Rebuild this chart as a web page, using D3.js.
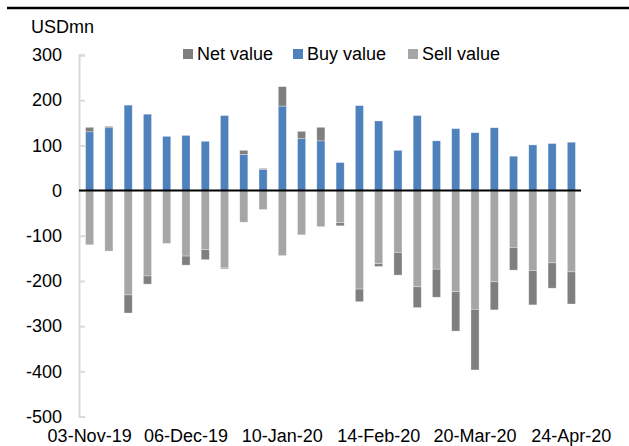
<!DOCTYPE html>
<html>
<head>
<meta charset="utf-8">
<script src="https://cdn.jsdelivr.net/npm/d3@7"></script>
<style>
  body { margin: 0; background: #fff; }
  text { font-family: "Liberation Sans", Arial, sans-serif; fill: #000; }
</style>
</head>
<body>
<svg width="629" height="446"></svg>
<script>
// weekly flows, USDmn
var weeks = ["03-Nov-19","08-Nov-19","15-Nov-19","22-Nov-19","29-Nov-19","06-Dec-19","13-Dec-19","20-Dec-19","27-Dec-19","03-Jan-20",
             "10-Jan-20","17-Jan-20","24-Jan-20","31-Jan-20","07-Feb-20","14-Feb-20","21-Feb-20","28-Feb-20","06-Mar-20","13-Mar-20",
             "20-Mar-20","27-Mar-20","03-Apr-20","10-Apr-20","17-Apr-20","24-Apr-20"];
var buyValue  = [130,139,189,169,120,122,109,166,80,47,187,115,110,62,188,154,89,166,110,137,128,139,76,101,104,107];
var sellValue = [-120,-134,-231,-189,-117,-145,-131,-170,-70,-42,-144,-98,-80,-71,-218,-162,-137,-213,-174,-224,-263,-202,-126,-177,-160,-180];
var netValue  = [10,3,-40,-18,0,-20,-22,-3,9,2,43,16,30,-7,-28,-6,-50,-46,-62,-87,-134,-62,-50,-76,-56,-71];
var tickLabels = ["03-Nov-19","06-Dec-19","10-Jan-20","14-Feb-20","20-Mar-20","24-Apr-20"];

var svg = d3.select("svg");
var x = d3.scaleBand().domain(weeks).range([80, 581]).paddingInner(0.58).paddingOuter(0.29);
var y = d3.scaleLinear().domain([-500, 300]).range([416.5, 55]);

var colors = {net: "#7f7f7f", buy: "#4f81bd", sell: "#a6a6a6"};

// top rule
svg.append("line").attr("x1", 7).attr("x2", 629).attr("y1", 8).attr("y2", 8)
   .attr("stroke", "#000").attr("stroke-width", 2.5);

// y axis
var yAxis = svg.append("g").attr("transform", "translate(79,0)")
   .call(d3.axisRight(y).tickValues(d3.range(-500, 301, 100)).tickSize(6).tickFormat(""));
yAxis.select(".domain").attr("stroke", "#d9d9d9").attr("stroke-width", 2);
yAxis.selectAll(".tick line").attr("stroke", "#d9d9d9").attr("stroke-width", 2);

svg.append("g").selectAll("text").data(y.ticks(8)).enter().append("text")
   .attr("x", 62).attr("y", function(d) { return y(d); }).attr("dy", "0.35em")
   .attr("text-anchor", "end").attr("font-size", "18px")
   .text(function(d) { return d; });

svg.append("text").attr("x", 31).attr("y", 33).attr("font-size", "18px").text("USDmn");

// bars
var rows = weeks.map(function(w, i) {
  return {w: w, buy: buyValue[i], sell: sellValue[i], net: netValue[i]};
});
var bw = x.bandwidth();
var g = svg.append("g");
rows.forEach(function(d) {
  g.append("rect").attr("x", x(d.w)).attr("width", bw)
   .attr("y", y(d.buy)).attr("height", y(0) - y(d.buy)).attr("fill", colors.buy);
  g.append("rect").attr("x", x(d.w)).attr("width", bw)
   .attr("y", y(0)).attr("height", y(d.sell) - y(0)).attr("fill", colors.sell);
  if (d.net == 0) return;
  if (d.net > 0) {
    g.append("rect").attr("x", x(d.w)).attr("width", bw)
     .attr("y", y(d.buy + d.net)).attr("height", y(d.buy) - y(d.buy + d.net)).attr("fill", colors.net);
  } else {
    g.append("rect").attr("x", x(d.w)).attr("width", bw)
     .attr("y", y(d.sell)).attr("height", y(d.sell + d.net) - y(d.sell)).attr("fill", colors.net);
  }
});
g.selectAll("rect").attr("stroke", "#fff").attr("stroke-opacity", 0.5).attr("stroke-width", 0.6);

// zero line
svg.append("line").attr("x1", 79).attr("x2", 581).attr("y1", y(0)).attr("y2", y(0))
   .attr("stroke", "#000").attr("stroke-width", 2);

// x labels
svg.append("g").selectAll("text").data(tickLabels).enter().append("text")
   .attr("x", function(d) { return x(d) + bw / 2; }).attr("y", 442)
   .attr("text-anchor", "middle").attr("font-size", "18px")
   .text(function(d) { return d; });

// legend
var legend = [["Net value", colors.net, 183], ["Buy value", colors.buy, 293], ["Sell value", colors.sell, 408]];
legend.forEach(function(l) {
  svg.append("rect").attr("x", l[2]).attr("y", 49).attr("width", 10).attr("height", 10).attr("fill", l[1]);
  svg.append("text").attr("x", l[2] + 14).attr("y", 60).attr("font-size", "18px").text(l[0]);
});
</script>
</body>
</html>
